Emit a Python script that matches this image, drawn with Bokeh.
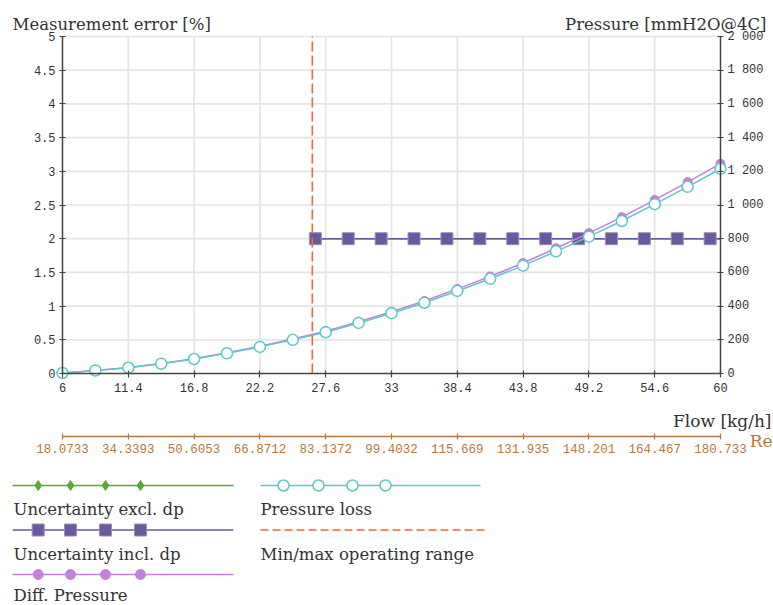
from bokeh.plotting import figure
from bokeh.models import Range1d, LinearAxis, FixedTicker
from bokeh.embed import file_html
from bokeh.resources import INLINE
from bokeh.core.properties import value

# ---------------- data ----------------
flow = [6, 8.7, 11.4, 14.1, 16.8, 19.5, 22.2, 24.9, 27.6, 30.3, 33, 35.7,
        38.4, 41.1, 43.8, 46.5, 49.2, 51.9, 54.6, 57.3, 60]
pressure_loss = [3, 18, 34, 58, 86, 120, 158, 200, 245, 300, 358, 420,
                 490, 562, 640, 725, 812, 905, 1005, 1108, 1215]
diff_pressure = [3, 18, 35, 60, 88, 123, 162, 205, 251, 308, 367, 430,
                 502, 576, 656, 743, 833, 928, 1030, 1136, 1245]
unc_flow = [26.75, 29.45, 32.15, 34.85, 37.55, 40.25, 42.95, 45.65,
            48.35, 51.05, 53.75, 56.45, 59.15, 60]
unc_incl_dp = [2, 2, 2, 2, 2, 2, 2, 2, 2, 2, 2, 2, 2, 2]
unc_excl_dp = [2, 2, 2, 2, 2, 2, 2, 2, 2, 2, 2, 2, 2, 2]
op_range_min = 26.5

x_ticks = [6, 11.4, 16.8, 22.2, 27.6, 33, 38.4, 43.8, 49.2, 54.6, 60]
y_ticks = [0, 0.5, 1, 1.5, 2, 2.5, 3, 3.5, 4, 4.5, 5]
y_labels = ["0", "0.5", "1", "1.5", "2", "2.5", "3", "3.5", "4", "4.5", "5"]
p_ticks = [0, 200, 400, 600, 800, 1000, 1200, 1400, 1600, 1800, 2000]
p_labels = ["0", "200", "400", "600", "800", "1 000", "1 200", "1 400",
            "1 600", "1 800", "2 000"]
re_ticks = [18.0733, 34.3393, 50.6053, 66.8712, 83.1372, 99.4032, 115.669,
            131.935, 148.201, 164.467, 180.733]
re_labels = ["18.0733", "34.3393", "50.6053", "66.8712", "83.1372", "99.4032",
             "115.669", "131.935", "148.201", "164.467", "180.733"]

legend_names = ["Uncertainty excl. dp", "Uncertainty incl. dp", "Diff. Pressure",
                "Pressure loss", "Min/max operating range"]

# ---------------- styles / layout constants (pixels) ----------------
CYAN = "#5cc8c8"
MAG = "#c67fdc"
PURP = "#6a5a9b"
GREEN = "#5aaa32"
ORANGE = "#f06a2e"
BROWN = "#b8783c"
AXIS = "#444444"
GRID = "#e4e4e4"
TXT = "#333333"
SERIF = "DejaVu Serif"
MONO = "Liberation Mono"

W, H = 773, 605
FX0, FX1 = 62, 720      # pixel x of flow 6 and 60
FY0, FY1 = 373, 36      # pixel y of value 0 and top
RE_AXIS_PY = 435.5


def span(v0, v1, p0, p1, lo, hi):
    s = (v1 - v0) / (p1 - p0)
    return Range1d(v0 + (lo - p0) * s, v0 + (hi - p0) * s)


x0, x1 = x_ticks[0], x_ticks[-1]
y0, y1 = y_ticks[0], y_ticks[-1]
xr = span(x0, x1, FX0, FX1, 0, W)
yr_ = span(y0, y1, FY0, FY1, H, 0)
pr = span(p_ticks[0], p_ticks[-1], FY0, FY1, H, 0)
rr = span(re_ticks[0], re_ticks[-1], FX0, FX1, 0, W)
re_axis_y = y0 + (RE_AXIS_PY - FY0) * (y1 - y0) / (FY1 - FY0)

p = figure(width=W, height=H, output_backend="svg", toolbar_location=None,
           x_range=xr, y_range=yr_, min_border=0,
           x_axis_location=None, y_axis_location=None)
p.outline_line_color = None
p.background_fill_color = "white"
p.border_fill_color = "white"
p.xgrid.visible = False
p.ygrid.visible = False
p.extra_y_ranges = {"p": pr, "py": Range1d(H, 0)}
p.extra_x_ranges = {"re": rr, "px": Range1d(0, W)}


def style_axis(ax, color=AXIS, label_color=TXT, size="12px"):
    ax.axis_line_color = color
    ax.axis_line_width = 1.5
    ax.major_tick_line_color = color
    ax.major_tick_line_width = 1.2
    ax.minor_tick_line_color = None
    ax.major_tick_in = 3
    ax.major_tick_out = 3
    ax.major_label_text_font = MONO
    ax.major_label_text_font_size = size
    ax.major_label_text_color = label_color


# left axis
yl = LinearAxis(ticker=FixedTicker(ticks=y_ticks), fixed_location=x0,
                bounds=(y0, y1))
yl.major_label_overrides = dict(zip(y_ticks, y_labels))
style_axis(yl)
yl.major_label_standoff = 4
p.add_layout(yl, "left")

# right axis
yrax = LinearAxis(y_range_name="p", ticker=FixedTicker(ticks=p_ticks),
                  fixed_location=x1, bounds=(p_ticks[0], p_ticks[-1]))
yrax.major_label_overrides = dict(zip(p_ticks, p_labels))
style_axis(yrax)
yrax.major_label_standoff = 4
p.add_layout(yrax, "right")

# bottom flow axis
xb = LinearAxis(ticker=FixedTicker(ticks=x_ticks), fixed_location=y0,
                bounds=(x0, x1))
style_axis(xb)
xb.major_tick_out = 4
xb.major_label_standoff = 5
p.add_layout(xb, "below")

# Re axis
xre = LinearAxis(x_range_name="re", ticker=FixedTicker(ticks=re_ticks),
                 fixed_location=re_axis_y, bounds=(re_ticks[0], re_ticks[-1]))
xre.major_label_overrides = dict(zip(re_ticks, re_labels))
style_axis(xre, color=BROWN, label_color=BROWN, size="12.5px")
xre.major_label_standoff = 5
p.add_layout(xre, "below")

# grid lines
p.segment(x0=x_ticks[1:-1], y0=[y0] * (len(x_ticks) - 2),
          x1=x_ticks[1:-1], y1=[y1] * (len(x_ticks) - 2),
          line_color=GRID, line_width=1.7)
p.segment(x0=[x0] * (len(y_ticks) - 1), y0=y_ticks[1:],
          x1=[x1] * (len(y_ticks) - 1), y1=y_ticks[1:],
          line_color=GRID, line_width=1.7)

# series
p.line(unc_flow, unc_excl_dp, line_color=GREEN, line_width=1.5)
p.scatter(unc_flow[:-1], unc_excl_dp[:-1], marker="diamond", size=10,
          fill_color=GREEN, line_color=GREEN)
p.line(unc_flow, unc_incl_dp, line_color=PURP, line_width=1.5)
p.scatter(unc_flow[:-1], unc_incl_dp[:-1], marker="square", size=12,
          fill_color=PURP, line_color="#9a8cc0", line_width=1)

p.line(flow, diff_pressure, y_range_name="p", line_color=MAG, line_width=1.5)
p.scatter(flow, diff_pressure, y_range_name="p", marker="circle", size=9,
          fill_color=MAG, line_color=MAG)
p.line(flow, pressure_loss, y_range_name="p", line_color=CYAN, line_width=1.5)
p.scatter(flow, pressure_loss, y_range_name="p", marker="circle", size=11,
          fill_color="white", line_color=CYAN, line_width=1.5)

p.segment(x0=[op_range_min], y0=[y0], x1=[op_range_min], y1=[y1],
          line_color=ORANGE, line_width=1.6, line_dash="10 4")

# ---------------- axis titles (pixel coords) ----------------
def ptext(x, y, texts, align, color=TXT, size="17px"):
    p.text(x=x, y=y, text=texts, x_range_name="px", y_range_name="py",
           text_font=value(SERIF), text_font_size=size, text_color=color,
           text_align=align, text_baseline="alphabetic")

ptext([12], [24], ["Measurement error [%]"], "left", size="16.5px")
ptext([766], [24], ["Pressure [mmH2O@4C]"], "right", size="16.5px")
ptext([771], [420], ["Flow [kg/h]"], "right")
ptext([772], [440], ["Re"], "right", color=BROWN)

# ---------------- legend (pixel coords) ----------------
mk_x1 = [37.7, 70, 105, 140]
mk_x2 = [283, 318, 352, 385]

p.line([12, 233], [485, 485], x_range_name="px", y_range_name="py",
       line_color=GREEN, line_width=1.5)
p.scatter(mk_x1, [485] * 4, x_range_name="px", y_range_name="py",
          marker="diamond", size=10, fill_color=GREEN, line_color=GREEN)
p.line([12, 233], [529.5, 529.5], x_range_name="px", y_range_name="py",
       line_color=PURP, line_width=1.5)
p.scatter(mk_x1, [529.5] * 4, x_range_name="px", y_range_name="py",
          marker="square", size=12, fill_color=PURP, line_color="#9a8cc0")
p.line([12, 233], [574, 574], x_range_name="px", y_range_name="py",
       line_color=MAG, line_width=1.5)
p.scatter(mk_x1, [574] * 4, x_range_name="px", y_range_name="py",
          marker="circle", size=10, fill_color=MAG, line_color=MAG)
p.line([260, 480], [485, 485], x_range_name="px", y_range_name="py",
       line_color=CYAN, line_width=1.5)
p.scatter(mk_x2, [485] * 4, x_range_name="px", y_range_name="py",
          marker="circle", size=11, fill_color="white", line_color=CYAN,
          line_width=1.5)
p.line([260, 487], [529.5, 529.5], x_range_name="px", y_range_name="py",
       line_color=ORANGE, line_width=1.5, line_dash="8 4")

ptext([13, 13, 13, 260, 260], [509, 553.5, 595, 509, 553.5], legend_names,
      "left", size="16.5px")

open("out.html", "w").write(file_html(p, INLINE))
